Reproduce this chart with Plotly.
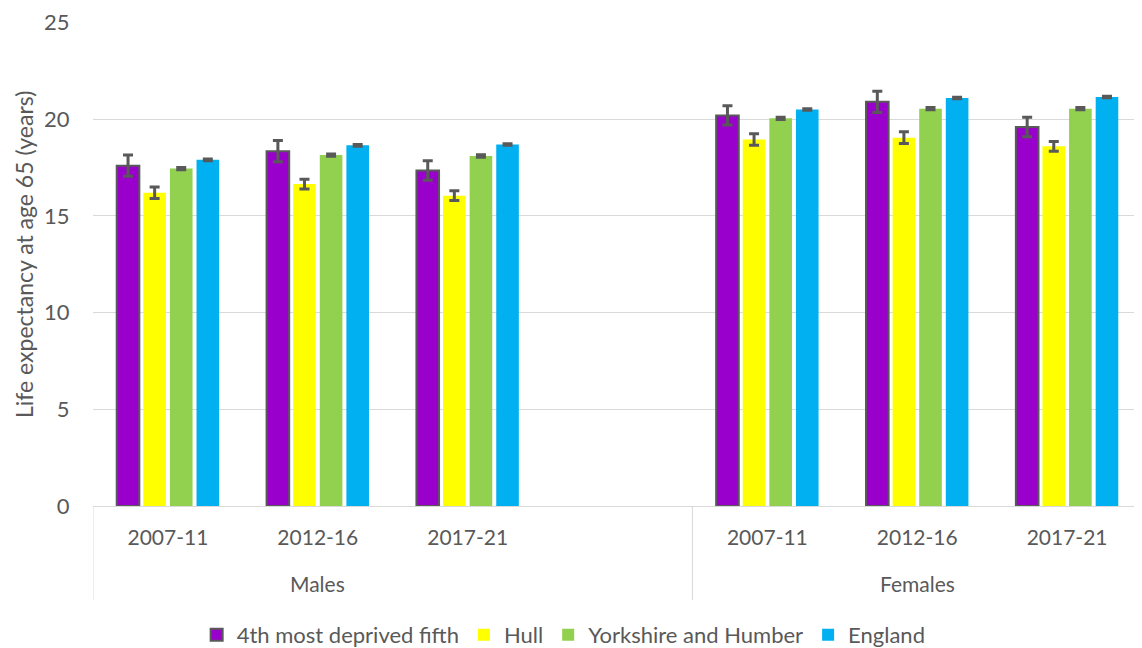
import plotly.graph_objects as go

# ---- data ----
sexes = ["Males", "Males", "Males", "Males", "Females", "Females", "Females"]
periods = ["2007-11", "2012-16", "2017-21", "", "2007-11", "2012-16", "2017-21"]
keys = [f"{s}|{p}|{i}" for i, (s, p) in enumerate(zip(sexes, periods))]

series_names = ["4th most deprived fifth", "Hull", "Yorkshire and Humber", "England"]
deprived = [17.6, 18.35, 17.35, None, 20.2, 20.9, 19.6]
deprived_err = [0.55, 0.55, 0.5, None, 0.5, 0.55, 0.5]
hull = [16.2, 16.65, 16.05, None, 18.95, 19.05, 18.6]
hull_err = [0.3, 0.25, 0.25, None, 0.3, 0.3, 0.25]
yh = [17.45, 18.15, 18.1, None, 20.05, 20.55, 20.55]
yh_err = [0.06, 0.06, 0.06, None, 0.06, 0.06, 0.06]
england = [17.9, 18.65, 18.7, None, 20.5, 21.1, 21.15]
england_err = [0.04, 0.04, 0.04, None, 0.04, 0.04, 0.04]

values = [deprived, hull, yh, england]
errors = [deprived_err, hull_err, yh_err, england_err]
colors = ["#9900CC", "#FFFF00", "#92D050", "#00B0F0"]
outline = ["#595959", None, None, None]

group_labels = ["Males", "Females"]
group_label_pos = [1, 5]
dividers = [-0.5, 3.5, 6.5]
y_title = "Life expectancy at age 65 (years)"

FONT = "Lato, Open Sans, sans-serif"
GREY = "#595959"

# page has an 8px body margin: figure is sized so the plot lands where the reference has it
W, H = 1134, 640
ML, MT, MB = 85, 14, 142
plot_h = H - MT - MB
plot_w = W - ML

fig = go.Figure()
for name, v, e, c, o in zip(series_names, values, errors, colors, outline):
    fig.add_trace(go.Bar(
        name=name, x=keys, y=v,
        marker=dict(color=c, line=dict(color=o if o else c, width=2 if o else 0)),
        error_y=dict(type="data", array=e, visible=True, color=GREY, thickness=3, width=5),
    ))

fig.update_layout(
    width=W, height=H,
    margin=dict(l=ML, r=0, t=MT, b=MB, pad=0),
    paper_bgcolor="white", plot_bgcolor="white",
    barmode="group", bargap=0.29, bargroupgap=0.15,
    font=dict(family=FONT, size=21, color=GREY),
    showlegend=True,
    legend=dict(orientation="h", xref="container", x=0.49, xanchor="center",
                yref="container", y=1 - 627 / H, yanchor="middle",
                font=dict(size=22, color=GREY), traceorder="normal"),
)
fig.update_xaxes(
    type="category", categoryorder="array", categoryarray=keys,
    tickmode="array", tickvals=keys, ticktext=periods,
    ticks="outside", ticklen=13, tickcolor="rgba(0,0,0,0)",
    showline=True, linecolor="#D9D9D9", linewidth=1,
    showgrid=False, tickfont=dict(size=21, color=GREY),
    range=[-0.5, 6.5], fixedrange=True, automargin=False,
)
fig.update_yaxes(
    range=[0, 25.03], tickvals=[0, 5, 10, 15, 20, 25],
    showgrid=True, gridcolor="#D9D9D9", gridwidth=1,
    zeroline=False, showline=False,
    ticks="outside", ticklen=18, tickcolor="rgba(0,0,0,0)",
    tickfont=dict(size=22, color=GREY), automargin=False,
)

fig.add_annotation(text=y_title, textangle=-90, xref="paper", yref="paper",
                   x=(16 - ML) / plot_w, y=1 - (247 - MT) / plot_h,
                   xanchor="center", yanchor="middle", showarrow=False,
                   font=dict(size=23, color=GREY))

for d in dividers:
    fig.add_shape(type="line", xref="x", yref="paper", x0=d, x1=d, y0=0, y1=-94 / plot_h,
                  line=dict(color="#D9D9D9", width=1))
for lab, pos in zip(group_labels, group_label_pos):
    fig.add_annotation(text=lab, x=pos, xref="x", y=-77 / plot_h, yref="paper",
                       showarrow=False, yanchor="middle", font=dict(size=21, color=GREY))

fig.write_html("out.html")
